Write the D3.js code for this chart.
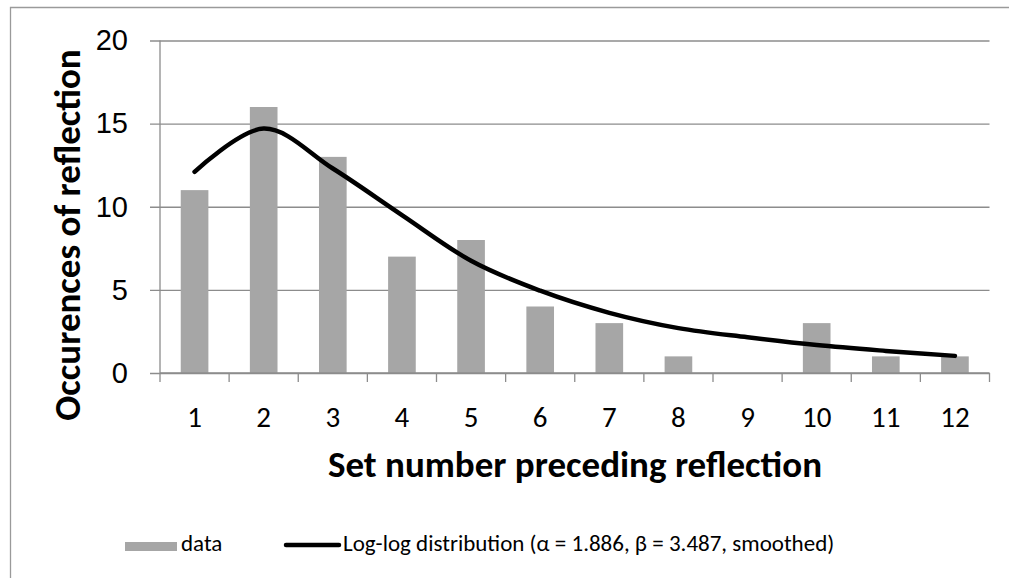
<!DOCTYPE html>
<html>
<head>
<meta charset="utf-8">
<script src="https://cdn.jsdelivr.net/npm/d3@7"></script>
<style>
  html, body { margin: 0; padding: 0; background: #fff; }
  svg { display: block; font-family: Carlito, Calibri, "Open Sans", "Noto Sans", sans-serif; }
</style>
</head>
<body>
<svg id="chart" width="1009" height="578"></svg>
<script>
// Set numbers on the category axis
const categories = ["1", "2", "3", "4", "5", "6", "7", "8", "9", "10", "11", "12"];
// Observed occurrences per set number
const dataValues = [11, 16, 13, 7, 8, 4, 3, 1, 0, 3, 1, 1];
// Fitted log-log distribution evaluated at each set number
const fitValues = [12.1, 14.7, 12.3, 9.5, 6.75, 4.95, 3.62, 2.7, 2.15, 1.68, 1.33, 1.03];
// Value axis ticks
const yTicks = [0, 5, 10, 15, 20];

const svg = d3.select("#chart");
const W = 1009, H = 578;
const plot = { left: 160, right: 989.5, top: 40.5, bottom: 373 };

// chart frame
svg.append("path")
  .attr("d", `M10.5,${H + 2}V7.5H${W + 2}`)
  .attr("fill", "none")
  .attr("stroke", "#9a9a9a")
  .attr("stroke-width", 1.3);

const x = d3.scaleBand().domain(categories).range([plot.left, plot.right]);
const barPad = 1 - 1 / 2.5; // bar occupies band/(1+gap 150%)
const y = d3.scaleLinear().domain([0, 20]).range([plot.bottom, plot.top]);

const gridColor = "#8c8c8c";

// horizontal gridlines with outward ticks
const yAxis = d3.axisLeft(y).tickValues(yTicks).tickSize(plot.right - plot.left + 10).tickPadding(22).tickFormat(d3.format("d"));
const gy = svg.append("g").attr("transform", `translate(${plot.right},0)`).call(yAxis);
gy.select(".domain").remove();
gy.selectAll(".tick line").attr("stroke", gridColor).attr("stroke-width", 1.3);
gy.selectAll(".tick text")
  .attr("fill", "#000")
  .style("font-size", "29px")
  .attr("dy", "0.32em");

// vertical axis line
svg.append("line")
  .attr("x1", plot.left).attr("x2", plot.left)
  .attr("y1", plot.top).attr("y2", plot.bottom)
  .attr("stroke", gridColor).attr("stroke-width", 1.3);

// bars
svg.append("g").selectAll("rect")
  .data(dataValues)
  .join("rect")
  .attr("x", (d, i) => x(categories[i]) + x.bandwidth() * barPad / 2)
  .attr("width", x.bandwidth() * (1 - barPad))
  .attr("y", d => y(d))
  .attr("height", d => y(0) - y(d))
  .attr("fill", "#a6a6a6");

// category axis
const boundaries = categories.map(c => x(c)).concat([plot.right]);
const gx = svg.append("g");
gx.append("line")
  .attr("x1", plot.left).attr("x2", plot.right)
  .attr("y1", plot.bottom).attr("y2", plot.bottom)
  .attr("stroke", gridColor).attr("stroke-width", 1.3);
gx.selectAll("line.tk")
  .data(boundaries)
  .join("line")
  .attr("class", "tk")
  .attr("x1", d => d).attr("x2", d => d)
  .attr("y1", plot.bottom).attr("y2", plot.bottom + 9)
  .attr("stroke", gridColor).attr("stroke-width", 1.3);
gx.selectAll("text")
  .data(categories)
  .join("text")
  .attr("x", d => x(d) + x.bandwidth() / 2)
  .attr("y", 427)
  .attr("text-anchor", "middle")
  .style("font-size", "29px")
  .text(d => d);

// smoothed fit line
const line = d3.line()
  .x((d, i) => x(categories[i]) + x.bandwidth() / 2)
  .y(d => y(d))
  .curve(d3.curveCardinal.tension(0));
svg.append("path")
  .datum(fitValues)
  .attr("d", line)
  .attr("fill", "none")
  .attr("stroke", "#000")
  .attr("stroke-width", 4.5)
  .attr("stroke-linecap", "round");

// axis titles
svg.append("text")
  .attr("x", 575).attr("y", 477)
  .attr("text-anchor", "middle")
  .style("font-size", "37px")
  .style("font-weight", "bold")
  .text("Set number preceding reflection");

svg.append("text")
  .attr("transform", "translate(80,235) rotate(-90)")
  .attr("text-anchor", "middle")
  .style("font-size", "37px")
  .style("font-weight", "bold")
  .text("Occurences of reflection");

// legend
const lg = svg.append("g");
lg.append("rect")
  .attr("x", 125).attr("y", 542).attr("width", 52).attr("height", 9)
  .attr("fill", "#a6a6a6");
lg.append("text")
  .attr("x", 181).attr("y", 551)
  .style("font-size", "23px")
  .text("data");
lg.append("line")
  .attr("x1", 286).attr("x2", 339).attr("y1", 545).attr("y2", 545)
  .attr("stroke", "#000").attr("stroke-width", 4.5).attr("stroke-linecap", "round");
lg.append("text")
  .attr("x", 343).attr("y", 551)
  .style("font-size", "23px")
  .text("Log-log distribution (α = 1.886, β = 3.487, smoothed)");
</script>
</body>
</html>
